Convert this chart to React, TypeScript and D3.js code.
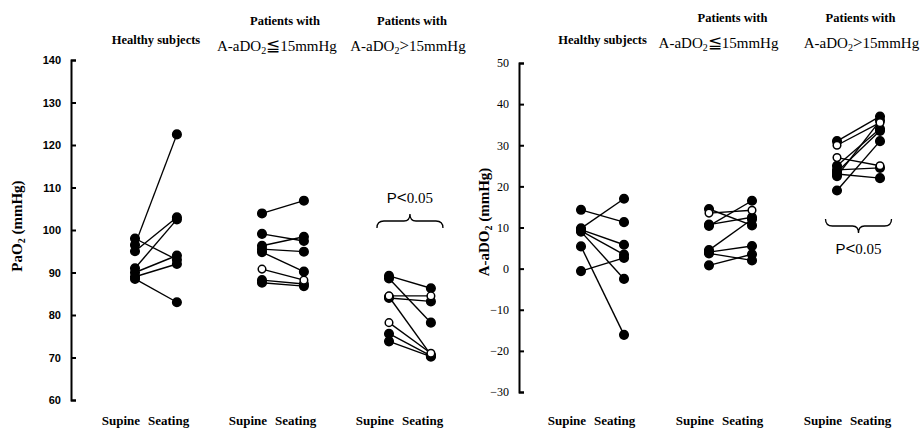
import * as d3 from 'd3';
import { useEffect, useRef } from 'react';

// PaO2 panel (mmHg)
const pao2Ticks = [60, 70, 80, 90, 100, 110, 120, 130, 140];
const pao2HealthySupine = [96.5, 98, 95, 91, 90, 89, 88.5];
const pao2HealthySeating = [122.5, 93, 103, 102.5, 94, 92, 83];
const pao2HealthyOpen = [0, 0, 0, 0, 0, 0, 0];
const pao2LowSupine = [103.9, 99.1, 96.3, 95.5, 94.8, 90.8, 88.2, 87.6];
const pao2LowSeating = [106.9, 97.4, 98.4, 94.9, 90.2, 88.2, 87.3, 86.8];
const pao2LowOpen = [0, 0, 0, 0, 0, 1, 0, 0];
const pao2HighSupine = [89.2, 88.6, 84.5, 84.0, 84.3, 78.2, 75.6, 73.8];
const pao2HighSeating = [86.3, 78.2, 84.5, 83.2, 70.6, 71.0, 70.4, 70.2];
const pao2HighOpen = [0, 0, 1, 0, 0, 1, 0, 0];

// A-aDO2 panel (mmHg)
const aado2Ticks = [-30, -20, -10, 0, 10, 20, 30, 40, 50];
const aado2HealthySupine = [14.3, 9.8, 9.5, 9.2, 9.0, 5.4, -0.6];
const aado2HealthySeating = [11.3, 17.0, 5.8, 3.4, -2.5, -16.1, 2.6];
const aado2HealthyOpen = [0, 0, 0, 0, 0, 0, 0];
const aado2LowSupine = [14.5, 13.5, 10.7, 10.4, 4.5, 4.0, 3.7, 0.8];
const aado2LowSeating = [10.5, 14.2, 12.5, 16.5, 12.0, 5.5, 2.0, 3.5];
const aado2LowOpen = [0, 1, 0, 0, 0, 0, 0, 0];
const aado2HighSupine = [31, 30, 27, 25, 24, 23.5, 22.5, 19, 23];
const aado2HighSeating = [37, 35.5, 25, 34, 24.5, 33.5, 36, 31, 22];
const aado2HighOpen = [0, 1, 1, 0, 0, 0, 0, 0, 0];

const SERIF = '"Liberation Serif", "Times New Roman", serif';
const SANS = '"Liberation Sans", Arial, sans-serif';

type Group = { supine: number[]; seating: number[]; open: number[] };

type PanelProps = {
  groups: Group[];
  domain: [number, number];
  yRange: [number, number];
  ticks: number[];
  axisX: number;
  xRange: [number, number];
  seatOffset: number;
  tickFont: string;
  tickWeight: string;
  tickSize: number;
  label: string;
  labelX: number;
  labelY: number;
  headerY: [number, number, number];
  headerDx: [number, number];
  brace: 'up' | 'down';
  braceY: number;
};

function Panel(props: PanelProps) {
  const {
    groups, domain, yRange, ticks, axisX, xRange, seatOffset, tickFont, tickWeight,
    tickSize, label, labelX, labelY, headerY, headerDx, brace, braceY,
  } = props;
  const gy = useRef<SVGGElement>(null);
  const y = d3.scaleLinear(domain, yRange);
  const x = d3.scaleLinear([0, 1], xRange);
  const unit = x(1) - x(0);

  useEffect(() => {
    if (!gy.current) return;
    const g = d3.select(gy.current);
    g.selectAll('*').remove();
    g.call(
      d3.axisLeft(y).tickValues(ticks).tickSizeInner(-5).tickSizeOuter(-5).tickPadding(10),
    );
    g.select('.domain').attr('stroke-width', 2);
    g.selectAll('.tick line').attr('stroke-width', 2);
    g.selectAll('.tick text')
      .attr('font-family', tickFont)
      .attr('font-weight', tickWeight)
      .attr('font-size', tickSize)
      .attr('fill', '#000');
  }, [ticks, tickFont, tickWeight, tickSize]);

  const bx = x(2) + (seatOffset * unit) / 2;
  const bw = 33;
  const s = brace === 'up' ? 1 : -1;
  const bracePath = [
    `M${bx - bw},${braceY + 7 * s}`,
    `Q${bx - bw},${braceY} ${bx - bw + 7},${braceY}`,
    `L${bx - 6},${braceY}`,
    `Q${bx},${braceY} ${bx},${braceY - 7 * s}`,
    `Q${bx},${braceY} ${bx + 6},${braceY}`,
    `L${bx + bw - 7},${braceY}`,
    `Q${bx + bw},${braceY} ${bx + bw},${braceY + 7 * s}`,
  ].join(' ');
  const pY = brace === 'up' ? braceY - 18 : braceY + 28;

  return (
    <g>
      <g ref={gy} transform={`translate(${axisX},0)`} />
      <text
        transform={`translate(${labelX},${labelY}) rotate(-90)`}
        textAnchor='middle'
        fontFamily={SERIF}
        fontWeight='bold'
        fontSize={15}
      >
        {label === 'PaO2' ? 'PaO' : 'A-aDO'}
        <tspan fontSize={10} dy={3}>2</tspan>
        <tspan dy={-3}> (mmHg)</tspan>
      </text>

      {/* headers */}
      <text x={x(0) + (seatOffset * unit) / 2} y={headerY[2]} textAnchor='middle'
        fontFamily={SERIF} fontWeight='bold' fontSize={12.5}>Healthy subjects</text>
      {[1, 2].map((i) => (
        <g key={i} fontFamily={SERIF}>
          <text x={x(i) + (seatOffset * unit) / 2 + 2} y={headerY[0]} textAnchor='middle'
            fontWeight='bold' fontSize={12.5}>Patients with</text>
          <text x={x(i) + (seatOffset * unit) / 2 + headerDx[i - 1]} y={headerY[1]}
            textAnchor='middle' fontSize={15}>
            A-aDO
            <tspan fontSize={10} dy={3}>2</tspan>
            <tspan dy={-3} fontSize={17}>{i === 1 ? '≦' : '>'}</tspan>
            <tspan>15mmHg</tspan>
          </text>
        </g>
      ))}

      {/* pairs */}
      {groups.map((gr, i) => (
        <g key={i}>
          {gr.supine.map((v, k) => (
            <line key={k} x1={x(i)} y1={y(v)} x2={x(i + seatOffset)} y2={y(gr.seating[k])}
              stroke='#000' strokeWidth={1.4} />
          ))}
          {[0, 1].map((o) =>
            gr.supine.map((v, k) =>
              gr.open[k] === o ? (
                <g key={`${o}-${k}`} fill={o ? '#fff' : '#000'} stroke='#000' strokeWidth={1.5}>
                  <circle cx={x(i)} cy={y(v)} r={o ? 3.8 : 4.3} />
                  <circle cx={x(i + seatOffset)} cy={y(gr.seating[k])} r={o ? 3.8 : 4.3} />
                </g>
              ) : null,
            ),
          )}
          <text x={x(i) + 5} y={425} textAnchor='end' fontFamily={SERIF}
            fontWeight='bold' fontSize={13}>Supine</text>
          <text x={x(i) + 13} y={425} textAnchor='start' fontFamily={SERIF}
            fontWeight='bold' fontSize={13}>Seating</text>
        </g>
      ))}

      {/* significance */}
      <path d={bracePath} fill='none' stroke='#000' strokeWidth={1.3} />
      <text x={bx} y={pY} textAnchor='middle' fontSize={15}>
        <tspan fontFamily={SANS}>P</tspan>
        <tspan fontFamily={SANS} fontSize={17}>&lt;</tspan>
        <tspan fontFamily={SERIF}>0.05</tspan>
      </text>
    </g>
  );
}

export default function App() {
  return (
    <svg width={920} height={431} style={{ position: 'absolute', left: 0, top: 0, background: '#fff' }}>
      <Panel
        groups={[
          { supine: pao2HealthySupine, seating: pao2HealthySeating, open: pao2HealthyOpen },
          { supine: pao2LowSupine, seating: pao2LowSeating, open: pao2LowOpen },
          { supine: pao2HighSupine, seating: pao2HighSeating, open: pao2HighOpen },
        ]}
        domain={[60, 140]}
        yRange={[400, 60]}
        ticks={pao2Ticks}
        axisX={71}
        xRange={[135, 262]}
        seatOffset={0.33}
        tickFont={SANS}
        tickWeight='bold'
        tickSize={11}
        label='PaO2'
        labelX={22}
        labelY={226}
        headerY={[25, 51, 44]}
        headerDx={[-6, -2]}
        brace='up'
        braceY={221}
      />
      <Panel
        groups={[
          { supine: aado2HealthySupine, seating: aado2HealthySeating, open: aado2HealthyOpen },
          { supine: aado2LowSupine, seating: aado2LowSeating, open: aado2LowOpen },
          { supine: aado2HighSupine, seating: aado2HighSeating, open: aado2HighOpen },
        ]}
        domain={[-30, 50]}
        yRange={[392, 63]}
        ticks={aado2Ticks}
        axisX={519}
        xRange={[581, 709]}
        seatOffset={0.336}
        tickFont={SERIF}
        tickWeight='normal'
        tickSize={12}
        label='A-aDO2'
        labelX={489}
        labelY={222}
        headerY={[22, 48, 44]}
        headerDx={[-12, 3]}
        brace='down'
        braceY={226}
      />
    </svg>
  );
}
